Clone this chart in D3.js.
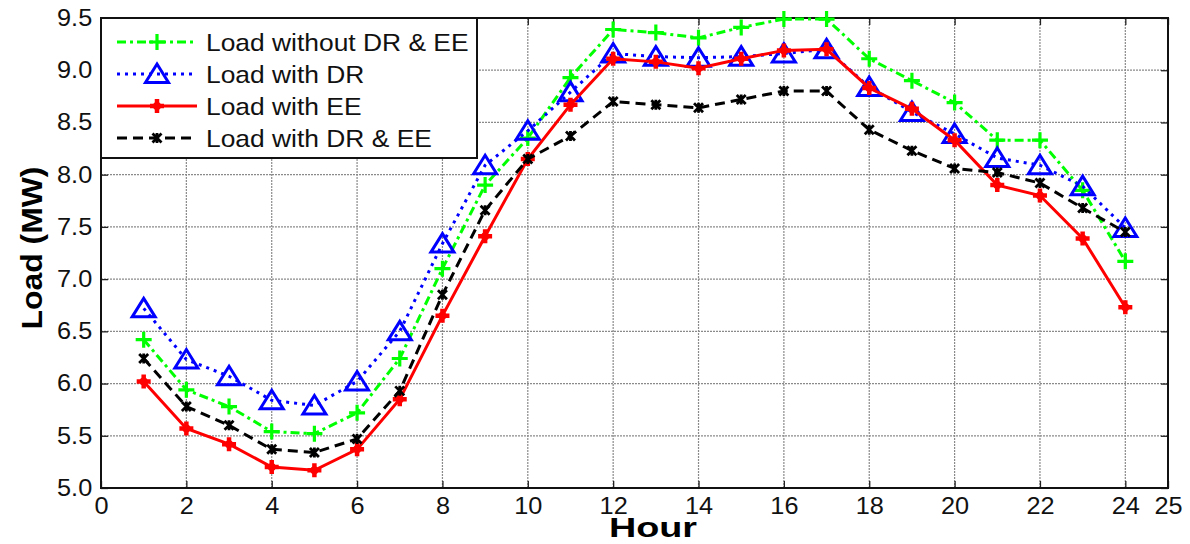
<!DOCTYPE html>
<html>
<head>
<meta charset="utf-8">
<script src="https://cdn.jsdelivr.net/npm/d3@7"></script>
<style>
  body { margin: 0; background: #fff; }
  svg { font-family: "Liberation Sans", Arial, sans-serif; }
</style>
</head>
<body>
<div id="chart"></div>
<script>
// hours 1..24
var hours = d3.range(1, 25);

var loadBase = [6.42, 5.94, 5.78, 5.54, 5.52, 5.72, 6.24, 7.10, 7.90, 8.35, 8.93, 9.39,
                9.36, 9.31, 9.41, 9.49, 9.49, 9.11, 8.90, 8.69, 8.33, 8.33, 7.85, 7.17];
var loadDR   = [6.72, 6.23, 6.07, 5.84, 5.79, 6.02, 6.50, 7.34, 8.09, 8.42, 8.79, 9.16,
                9.13, 9.12, 9.13, 9.16, 9.20, 8.84, 8.60, 8.39, 8.16, 8.09, 7.89, 7.49];
var loadEE   = [6.02, 5.57, 5.42, 5.20, 5.17, 5.37, 5.85, 6.65, 7.41, 8.15, 8.67, 9.11,
                9.08, 9.02, 9.11, 9.19, 9.20, 8.83, 8.63, 8.33, 7.90, 7.80, 7.39, 6.73];
var loadDREE = [6.24, 5.78, 5.60, 5.37, 5.34, 5.47, 5.93, 6.85, 7.66, 8.15, 8.37, 8.70,
                8.67, 8.64, 8.72, 8.80, 8.80, 8.43, 8.23, 8.06, 8.02, 7.92, 7.68, 7.45];

var seriesNames = ["Load without DR & EE", "Load with DR", "Load with EE", "Load with DR & EE"];
var xTicks = [0, 2, 4, 6, 8, 10, 12, 14, 16, 18, 20, 22, 24, 25];
var yTicks = [5.0, 5.5, 6.0, 6.5, 7.0, 7.5, 8.0, 8.5, 9.0, 9.5];

var series = [
  {name: seriesNames[0], values: loadBase, color: "#00ff00", dash: "9,4,3,4", marker: "plus"},
  {name: seriesNames[1], values: loadDR,   color: "#0000ff", dash: "3,5",     marker: "triangle"},
  {name: seriesNames[2], values: loadEE,   color: "#ff0000", dash: null,      marker: "boldplus"},
  {name: seriesNames[3], values: loadDREE, color: "#000000", dash: "10,6",    marker: "cross"}
];

var W = 1190, H = 544;
var SX = 1.1; // text in the original is slightly stretched sideways
var margin = {top: 18, right: 22, bottom: 56, left: 101},
    width = W - margin.left - margin.right,
    height = H - margin.top - margin.bottom;

var svg = d3.select("#chart")
  .append("svg")
    .attr("width", W)
    .attr("height", H)
  .append("g")
    .attr("transform", "translate(" + margin.left + "," + margin.top + ")");

var x = d3.scaleLinear().domain([0, 25]).range([0, width]);
var y = d3.scaleLinear().domain([5, 9.5]).range([height, 0]);

// grid
svg.append("g")
  .selectAll("line")
  .data(xTicks.filter(function (t) { return t > 0 && t < 25; }))
  .enter().append("line")
    .attr("x1", function (d) { return x(d); })
    .attr("x2", function (d) { return x(d); })
    .attr("y1", 0).attr("y2", height)
    .attr("stroke", "#8a8a8a").attr("stroke-width", 1.2)
    .attr("stroke-dasharray", "2,1");

svg.append("g")
  .selectAll("line")
  .data(yTicks.filter(function (t) { return t > 5 && t < 9.5; }))
  .enter().append("line")
    .attr("y1", function (d) { return y(d); })
    .attr("y2", function (d) { return y(d); })
    .attr("x1", 0).attr("x2", width)
    .attr("stroke", "#8a8a8a").attr("stroke-width", 1.2)
    .attr("stroke-dasharray", "2,1");

// axes (ticks pointing inward, mirrored on top/right)
var xAxis = svg.append("g")
  .attr("transform", "translate(0," + height + ")")
  .call(d3.axisBottom(x).tickValues(xTicks).tickSize(-7).tickPadding(10).tickFormat(d3.format("d")));
var xTop = svg.append("g")
  .call(d3.axisTop(x).tickValues(xTicks).tickSize(-7).tickFormat(""));
var yAxis = svg.append("g")
  .call(d3.axisLeft(y).tickValues(yTicks).tickSize(-7).tickPadding(8).tickFormat(d3.format(".1f")));
var yRight = svg.append("g")
  .attr("transform", "translate(" + width + ",0)")
  .call(d3.axisRight(y).tickValues(yTicks).tickSize(-7).tickFormat(""));

[xAxis, xTop, yAxis, yRight].forEach(function (a) {
  a.select(".domain").remove();
  a.selectAll(".tick line").attr("stroke", "#222").attr("stroke-width", 1.3);
  a.selectAll("text").attr("font-size", 23).attr("fill", "#111")
    .attr("transform", "scale(" + SX + ",1)")
    .style("font-family", "'Liberation Sans', Arial, sans-serif");
});

// frame
svg.append("rect")
  .attr("x", 0).attr("y", 0)
  .attr("width", width).attr("height", height)
  .attr("fill", "none").attr("stroke", "#111").attr("stroke-width", 2);

// marker shapes
function drawMarker(g, type, color) {
  if (type === "plus") {
    g.append("path").attr("d", "M-8,0H8M0,-8V8")
      .attr("stroke", color).attr("stroke-width", 3.2).attr("fill", "none");
  } else if (type === "triangle") {
    g.append("path").attr("d", "M0,-10L11.5,8.5L-11.5,8.5Z")
      .attr("stroke", color).attr("stroke-width", 3).attr("fill", "none");
  } else if (type === "boldplus") {
    g.append("path").attr("d", "M-7,0H7M0,-7V7")
      .attr("stroke", color).attr("stroke-width", 4.5).attr("fill", "none");
    g.append("circle").attr("r", 4).attr("fill", color);
  } else if (type === "cross") {
    g.append("path").attr("d", "M-4.5,-4.5L4.5,4.5M-4.5,4.5L4.5,-4.5M0,-5V5")
      .attr("stroke", color).attr("stroke-width", 2.8).attr("fill", "none");
  }
}

var line = d3.line()
  .x(function (d, i) { return x(hours[i]); })
  .y(function (d) { return y(d); });

series.forEach(function (s) {
  svg.append("path")
    .datum(s.values)
    .attr("d", line)
    .attr("fill", "none")
    .attr("stroke", s.color)
    .attr("stroke-width", 3)
    .attr("stroke-dasharray", s.dash);
  s.values.forEach(function (v, i) {
    var g = svg.append("g").attr("transform", "translate(" + x(hours[i]) + "," + y(v) + ")");
    drawMarker(g, s.marker, s.color);
  });
});

// legend
var legend = svg.append("g");
legend.append("rect")
  .attr("x", 0).attr("y", 0)
  .attr("width", 376).attr("height", 140)
  .attr("fill", "#fff").attr("stroke", "#111").attr("stroke-width", 2);

series.forEach(function (s, i) {
  var ly = 24 + i * 32;
  legend.append("line")
    .attr("x1", 16).attr("x2", 96)
    .attr("y1", ly).attr("y2", ly)
    .attr("stroke", s.color).attr("stroke-width", 3)
    .attr("stroke-dasharray", s.dash);
  var g = legend.append("g").attr("transform", "translate(56," + ly + ")");
  drawMarker(g, s.marker, s.color);
  legend.append("text")
    .attr("transform", "translate(105," + ly + ") scale(1.1,1)")
    .attr("dy", "0.36em")
    .attr("font-size", 24)
    .attr("fill", "#111")
    .text(s.name);
});

// axis labels
svg.append("text")
  .attr("transform", "translate(" + (-margin.left + 42) + "," + (height / 2 - 5) + ") rotate(-90) scale(" + SX + ",1)")
  .style("text-anchor", "middle")
  .attr("font-size", 29)
  .attr("font-weight", "bold")
  .text("Load (MW)");

svg.append("text")
  .attr("transform", "translate(552," + (height + 49) + ") scale(1.4,1)")
  .style("text-anchor", "middle")
  .attr("font-size", 27)
  .attr("font-weight", "bold")
  .text("Hour");
</script>
</body>
</html>
